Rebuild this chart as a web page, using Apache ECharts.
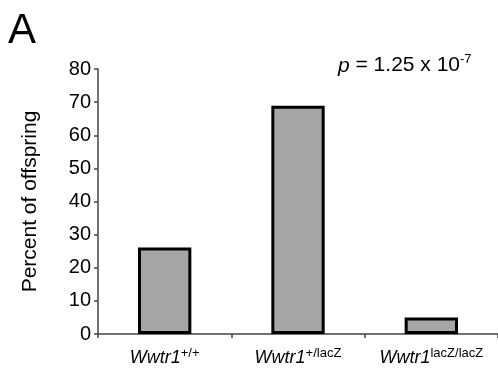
<!DOCTYPE html>
<html><head><meta charset="utf-8">
<script src="https://cdn.jsdelivr.net/npm/echarts@6/dist/echarts.min.js"></script>
<style>html,body{margin:0;padding:0;background:#fff}#c{width:498px;height:375px}</style>
</head><body><div id="c"></div>
<script>
const categories = ["+/+", "+/lacZ", "lacZ/lacZ"];
const geneName = "Wwtr1";
const percentValues = [26.1, 68.9, 5.0];
const yTicks = [0, 10, 20, 30, 40, 50, 60, 70, 80];

const chart = echarts.init(document.getElementById('c'), null, {renderer: 'canvas'});
const FF = '"Liberation Sans", Arial, sans-serif';
chart.setOption({
  animation: false,
  backgroundColor: '#fff',
  grid: {left: 98, right: 0, top: 69, bottom: 41},
  title: {text: 'A', left: 3, top: 5, textStyle: {fontFamily: FF, fontSize: 42, fontWeight: 'normal', color: '#000'}},
  graphic: [{
    type: 'text', left: 338, top: 53,
    style: {
      text: '{i|p} = 1.25 x 10{s|-7}',
      fontFamily: FF, fontSize: 21, fill: '#000',
      rich: {
        i: {fontStyle: 'italic', fontFamily: FF, fontSize: 21, lineHeight: 24, verticalAlign: 'bottom'},
        s: {fontFamily: FF, fontSize: 13, lineHeight: 24, verticalAlign: 'top'}
      }
    }
  }],
  xAxis: {
    type: 'category', data: categories,
    axisLine: {lineStyle: {color: '#444', width: 1.5}},
    axisTick: {show: true, length: 4, lineStyle: {color: '#444', width: 1.5}},
    axisLabel: {
      interval: 0, margin: 13,
      formatter: v => '{g|' + geneName + '}{s|' + v + '}',
      rich: {
        g: {fontFamily: FF, fontStyle: 'italic', fontSize: 18, color: '#000', lineHeight: 20, verticalAlign: 'bottom'},
        s: {fontFamily: FF, fontSize: 13, color: '#000', lineHeight: 20, verticalAlign: 'top'}
      }
    }
  },
  yAxis: {
    type: 'value', min: 0, max: 80, interval: 10,
    name: 'Percent of offspring', nameLocation: 'middle', nameGap: 57,
    nameTextStyle: {fontFamily: FF, fontSize: 21, color: '#000'},
    axisLine: {show: true, lineStyle: {color: '#444', width: 1.5}},
    axisTick: {show: true, length: 4, lineStyle: {color: '#444', width: 1.5}},
    splitLine: {show: false},
    axisLabel: {fontFamily: FF, fontSize: 20, color: '#000', margin: 7,
      formatter: v => yTicks.includes(v) ? String(v) : ''}
  },
  series: [{
    type: 'bar', data: percentValues, barWidth: '40%',
    itemStyle: {color: '#a6a6a6', borderColor: '#000', borderWidth: 3}
  }]
});
</script></body></html>
